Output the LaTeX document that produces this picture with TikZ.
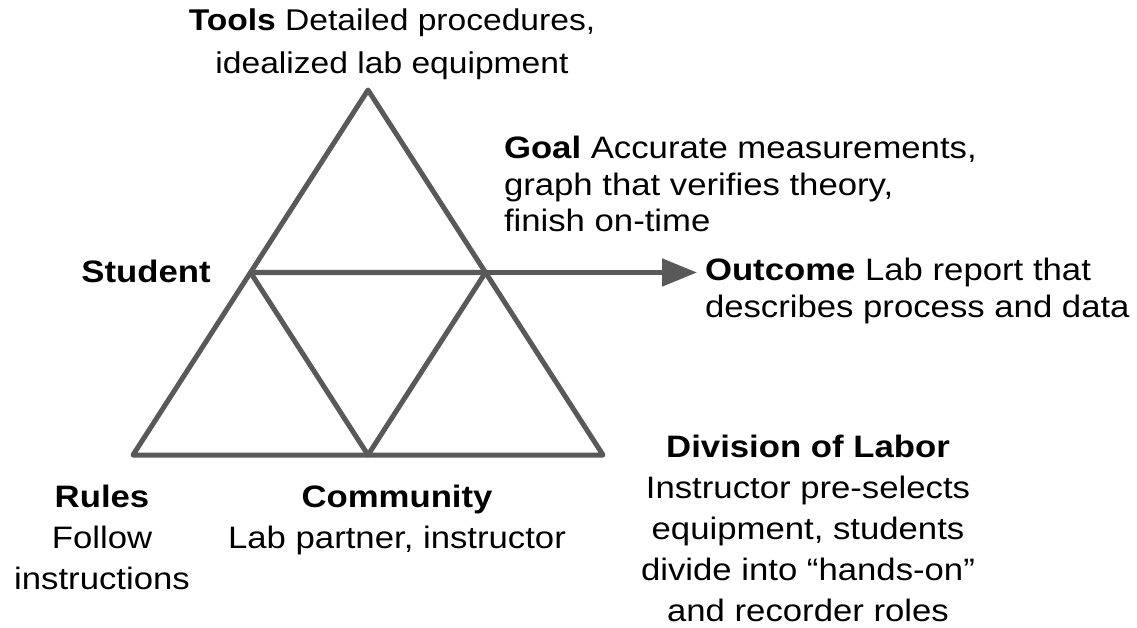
\documentclass[tikz,border=0pt]{standalone}
\usepackage{fontspec}
\setmainfont[FakeStretch=1.12]{Liberation Sans}
\usetikzlibrary{arrows.meta}
\definecolor{edgegray}{HTML}{595959}
\begin{document}
\begin{tikzpicture}[x=1pt,y=-1pt,
  tri/.style={draw=edgegray,line width=5pt,line join=round,line cap=round},
  lab/.style={inner sep=0pt,outer sep=0pt,align=center,font=\fontsize{31}{41}\selectfont},
  labl/.style={inner sep=0pt,outer sep=0pt,align=left,font=\fontsize{31}{36.5}\selectfont}]
\useasboundingbox (0,0) rectangle (1137,628);
\coordinate (A) at (368,90);
\coordinate (L) at (133,455);
\coordinate (R) at (603,455);
\coordinate (ML) at (250.5,272.5);
\coordinate (MR) at (485.5,272.5);
\coordinate (MB) at (368,455);
\coordinate (tip) at (697,272.5);
\draw[tri] (A) -- (L) -- (R) -- cycle;
\draw[tri] (ML) -- (MR) -- (MB) -- cycle;
\draw[draw=edgegray,line width=5pt,-{Triangle[length=35pt,width=27pt]}] (MR) -- (tip);
\node[lab,anchor=base,font=\fontsize{30}{43}\selectfont] (tools) at (392,74) {\textbf{Tools} Detailed procedures,\\idealized lab equipment};
\node[labl,anchor=base west] (goal) at (504,232) {\textbf{Goal} Accurate measurements,\\graph that verifies theory,\\finish on-time};
\node[lab,anchor=base] (student) at (146,282) {\textbf{Student}};
\node[labl,anchor=base west] (outcome) at (705,317) {\textbf{Outcome} Lab report that\\describes process and data};
\node[lab,anchor=base] (div) at (808,621) {\textbf{Division of Labor}\\Instructor pre-selects\\equipment, students\\divide into “hands-on”\\and recorder roles};
\node[lab,anchor=base] (rules) at (102,589) {\textbf{Rules}\\Follow\\instructions};
\node[lab,anchor=base] (comm) at (397,548) {\textbf{Community}\\Lab partner, instructor};
\end{tikzpicture}
\end{document}
